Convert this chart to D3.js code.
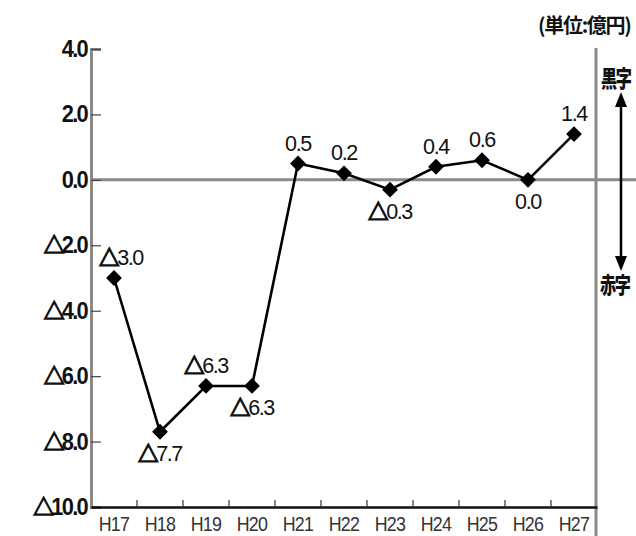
<!DOCTYPE html>
<html><head><meta charset="utf-8">
<script src="https://cdn.jsdelivr.net/npm/d3@7"></script>
<style>body{margin:0;background:#fff}svg{display:block}</style>
</head><body>
<script>
const categories = ["H17","H18","H19","H20","H21","H22","H23","H24","H25","H26","H27"];
const values = [-3.0,-7.7,-6.3,-6.3,0.5,0.2,-0.3,0.4,0.6,0.0,1.4];
const labelPos = ["above","below","above","below","above","above","below","above","above","below","above"];
const yTicks = [4,2,0,-2,-4,-6,-8,-10];
const unitLabel = "(単位:億円)";
const surplusLabel = "黒字";
const deficitLabel = "赤字";

const W = 636, H = 536;
const numFont = "'Liberation Sans',Arial,sans-serif";
const cjkFont = "'Noto Sans CJK JP',sans-serif";
const svg = d3.select("body").append("svg").attr("width", W).attr("height", H);

const x = d3.scaleBand().domain(categories).range([91, 597]);
const y = d3.scaleLinear().domain([-10, 4]).range([507, 49]);

// writes a number with a Japanese-style △ for negatives, horizontally condensed
function numText(parent, px, py, v, o) {
  const g = parent.append("g").attr("transform", `translate(${px},${py}) scale(${o.sx},1)`);
  const t = g.append("text").attr("text-anchor", o.anchor).attr("font-family", numFont)
    .attr("font-size", o.size).attr("font-weight", o.weight).attr("fill", o.fill)
    .attr("letter-spacing", o.ls);
  if (v < 0) t.append("tspan").attr("font-family", cjkFont)
    .attr("font-size", o.size * 0.95).attr("font-weight", "bold")
    .attr("stroke", o.fill).attr("stroke-width", 1.3).text("△");
  t.append("tspan").attr("dx", v < 0 ? -1 : 0).text(Math.abs(v).toFixed(1));
}

// zero line
svg.append("line").attr("x1", 91).attr("x2", W).attr("y1", y(0)).attr("y2", y(0))
  .attr("stroke", "#8a8a8a").attr("stroke-width", 3);
// right vertical
svg.append("line").attr("x1", 596).attr("x2", 596).attr("y1", 48).attr("y2", H)
  .attr("stroke", "#8a8a8a").attr("stroke-width", 3);

// left axis
const yAxis = d3.axisRight(y).tickValues(yTicks).tickSize(10).tickFormat("");
const gy = svg.append("g").attr("transform", "translate(91,0)").call(yAxis);
gy.select(".domain").attr("stroke", "#8a8a8a").attr("stroke-width", 3);
gy.selectAll(".tick line").attr("stroke", "#444").attr("stroke-width", 1.2);
const gyl = svg.append("g");
yTicks.forEach(d => numText(gyl, 87, y(d) + 8, d,
  {sx: 0.95, anchor: "end", size: 23, weight: "bold", fill: "#111", ls: -1.8}));

// bottom axis
const xAxis = d3.axisTop(x).tickSize(0).tickFormat("");
const gx = svg.append("g").attr("transform", "translate(0,507)").call(xAxis);
gx.select(".domain").attr("stroke", "#111").attr("stroke-width", 2.5);
svg.append("g").selectAll("line").data(categories.slice(1)).join("line")
  .attr("x1", d => x(d)).attr("x2", d => x(d)).attr("y1", 507).attr("y2", 500)
  .attr("stroke", "#333").attr("stroke-width", 1.2);
svg.append("g").selectAll("g").data(categories).join("g")
  .attr("transform", d => `translate(${x(d) + x.bandwidth() / 2},531) scale(0.85,1)`)
  .append("text").attr("text-anchor", "middle").attr("font-family", numFont)
  .attr("font-size", 21).attr("fill", "#333").attr("letter-spacing", -0.8)
  .text(d => d);

// line
const cx = (d, i) => x(categories[i]) + x.bandwidth() / 2;
svg.append("path").datum(values)
  .attr("d", d3.line().x(cx).y(d => y(d)))
  .attr("fill", "none").attr("stroke", "#000").attr("stroke-width", 2.6);
svg.append("g").selectAll("path").data(values).join("path")
  .attr("d", d3.symbol(d3.symbolSquare, 125))
  .attr("transform", (d, i) => `translate(${cx(d, i)},${y(d)}) rotate(45)`)
  .attr("fill", "#000");

// value labels
const gl = svg.append("g");
values.forEach((d, i) => {
  const py = labelPos[i] === "above" ? y(d) - 13 : y(d) + 29;
  numText(gl, cx(d, i) + (i === 0 ? 7 : 0), py, d,
    {sx: 0.98, anchor: "middle", size: 22, weight: "normal", fill: "#111", ls: -1.4});
});

// unit
svg.append("text").attr("x", 538).attr("y", 33).attr("font-family", cjkFont)
  .attr("font-size", 20).attr("font-weight", "bold").attr("letter-spacing", -1.3).attr("fill", "#111")
  .text(unitLabel);

// surplus/deficit
svg.append("g").attr("transform", "translate(601,87) scale(0.85,1.2)")
  .append("text").attr("font-family", cjkFont)
  .attr("font-size", 19).attr("font-weight", "900").attr("letter-spacing", -1.5).attr("fill", "#111").text(surplusLabel);
svg.append("g").attr("transform", "translate(600,293) scale(0.85,1.15)")
  .append("text").attr("font-family", cjkFont)
  .attr("font-size", 19).attr("font-weight", "900").attr("letter-spacing", -1.5).attr("fill", "#111").text(deficitLabel);
svg.append("line").attr("x1", 621).attr("x2", 621).attr("y1", 100).attr("y2", 263)
  .attr("stroke", "#000").attr("stroke-width", 2.5);
svg.append("path").attr("d", "M621,92 L615,107 L627,107 Z").attr("fill", "#000");
svg.append("path").attr("d", "M621,271 L615,256 L627,256 Z").attr("fill", "#000");
</script>
</body></html>
